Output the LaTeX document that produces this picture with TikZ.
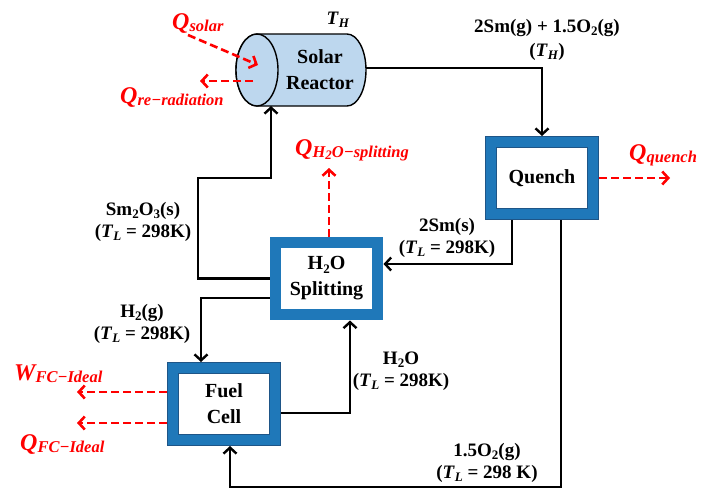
\documentclass[tikz,border=0pt]{standalone}
\usepackage{fontspec}
\setmainfont{Liberation Serif}
\usetikzlibrary{arrows.meta}
\definecolor{boxblue}{RGB}{31,120,185}
\definecolor{boxdark}{RGB}{30,85,135}
\definecolor{reactfill}{RGB}{189,215,238}
\definecolor{qred}{RGB}{255,0,0}
\newcommand{\lsub}[1]{\raisebox{-0.35ex}{\fontsize{13}{13}\selectfont #1}}
\newcommand{\Hsym}[2]{{\fontsize{24}{24}\selectfont\bfseries\itshape #1}\raisebox{-0.5ex}{\fontsize{16.5}{16.5}\selectfont\bfseries\itshape #2}}
\newcommand{\TL}{\textit{T}\lsub{\textit{L}}}
\begin{document}
\begin{tikzpicture}[x=1pt,y=-1pt,
  flow/.style={line width=2.4pt,-{Straight Barb[length=6pt,width=13pt]}},
  heat/.style={qred,line width=2.6pt,dash pattern=on 8pt off 4pt,-{Straight Barb[length=6pt,width=13pt]}},
  unit/.style={draw=boxdark,line width=0.6pt,double=boxblue,double distance=10.5pt,fill=white,
    minimum width=102pt,minimum height=72pt,inner sep=0pt,outer sep=6pt,align=center,
    font=\fontsize{20}{26}\selectfont\bfseries},
  lab/.style={align=center,inner sep=0pt,font=\fontsize{19}{22}\selectfont\bfseries},
  qlab/.style={qred,inner sep=0pt,anchor=west}]
\useasboundingbox (0,0) rectangle (703,488);
% solar reactor
\draw[line width=1.4pt,fill=reactfill] (257,34) -- (347,34)
  arc[start angle=90,end angle=-90,x radius=19pt,y radius=36pt] -- (257,106)
  arc[start angle=270,end angle=90,x radius=21pt,y radius=36pt] -- cycle;
\draw[line width=1.4pt,fill=reactfill] (257,70) ellipse [x radius=21pt,y radius=36pt];
\node[lab,font=\fontsize{20}{26}\selectfont\bfseries] (reacttxt) at (320,70) {Solar\\Reactor};
\coordinate (rr) at (366,68);
\coordinate (rb) at (271,106);
\node[lab] (th) at (338,20) {\textit{T}\lsub{\textit{H}}};
% units
\node[unit] (quench) at (542,178) {Quench};
\node[unit] (split) at (326.5,278.5) {H\lsub{2}O\\Splitting};
\node[unit] (fuel) at (224,404) {Fuel\\Cell};
% coordinates
\coordinate (s1) at (198,178);
\coordinate (bot) at (0,487);
% flows
\draw[flow] (rr) -| (quench.north);
\draw[flow] ([xshift=-30pt]quench.south) |- ([yshift=14.5pt]split.east);
\draw[flow] ([xshift=19pt]quench.south) |- ([xshift=6pt]fuel.south |- bot) -- ([xshift=6pt]fuel.south);
\draw[flow] (split.west) -| (s1) -| (rb);
\draw[flow] ([yshift=-19.5pt]split.west) -| ([xshift=-23pt]fuel.north);
\draw[flow] ([yshift=-9pt]fuel.east) -| ([xshift=23.5pt]split.south);
% heat flows
\coordinate (qs1) at (188,35);
\coordinate (qs2) at (258,65);
\coordinate (qr1) at (253,81);
\coordinate (qr2) at (200,81);
\coordinate (qh) at (329,168);
\coordinate (qq) at (670,178);
\coordinate (qw) at (77,392);
\coordinate (qf) at (77,423);
\draw[heat] (qs1) -- (qs2);
\draw[heat] (qr1) -- (qr2);
\draw[heat] ([xshift=2.5pt]split.north) -- (qh);
\draw[heat] (quench.east) -- (qq);
\draw[heat] ([yshift=12pt]fuel.west) -- (qw);
\draw[heat] ([yshift=-19pt]fuel.west) -- (qf);
% heat labels
\node[qlab] (lsolar) at (172,23) {\Hsym{Q}{solar}};
\node[qlab] (lrerad) at (120,97) {\Hsym{Q}{re\char"2212 radiation}};
\node[qlab] (lquench) at (629,155) {\Hsym{Q}{quench}};
\node[qlab] (lsplit) at (295,150) {\Hsym{Q}{H\lsub{2}O\char"2212 splitting}};
\node[qlab] (lw) at (14,374) {\Hsym{W}{FC\char"2212 Ideal}};
\node[qlab] (lqf) at (20,444) {\Hsym{Q}{FC\char"2212 Ideal}};
% stream labels
\node[lab] (l1) at (547,28) {2Sm(g) + 1.5O\lsub{2}(g)};
\node[lab] (l1b) at (547,52) {(\textit{T}\lsub{\textit{H}})};
\node[lab] (l2) at (143,222) {Sm\lsub{2}O\lsub{3}(s)\\(\TL{} = 298K)};
\node[lab] (l3) at (447,238) {2Sm(s)\\(\TL{} = 298K)};
\node[lab] (l4) at (142,324) {H\lsub{2}(g)\\(\TL{} = 298K)};
\node[lab] (l5) at (401,371) {H\lsub{2}O\\(\TL{} = 298K)};
\node[lab] (l6) at (487,463) {1.5O\lsub{2}(g)\\(\TL{} = 298 K)};
\end{tikzpicture}
\end{document}
